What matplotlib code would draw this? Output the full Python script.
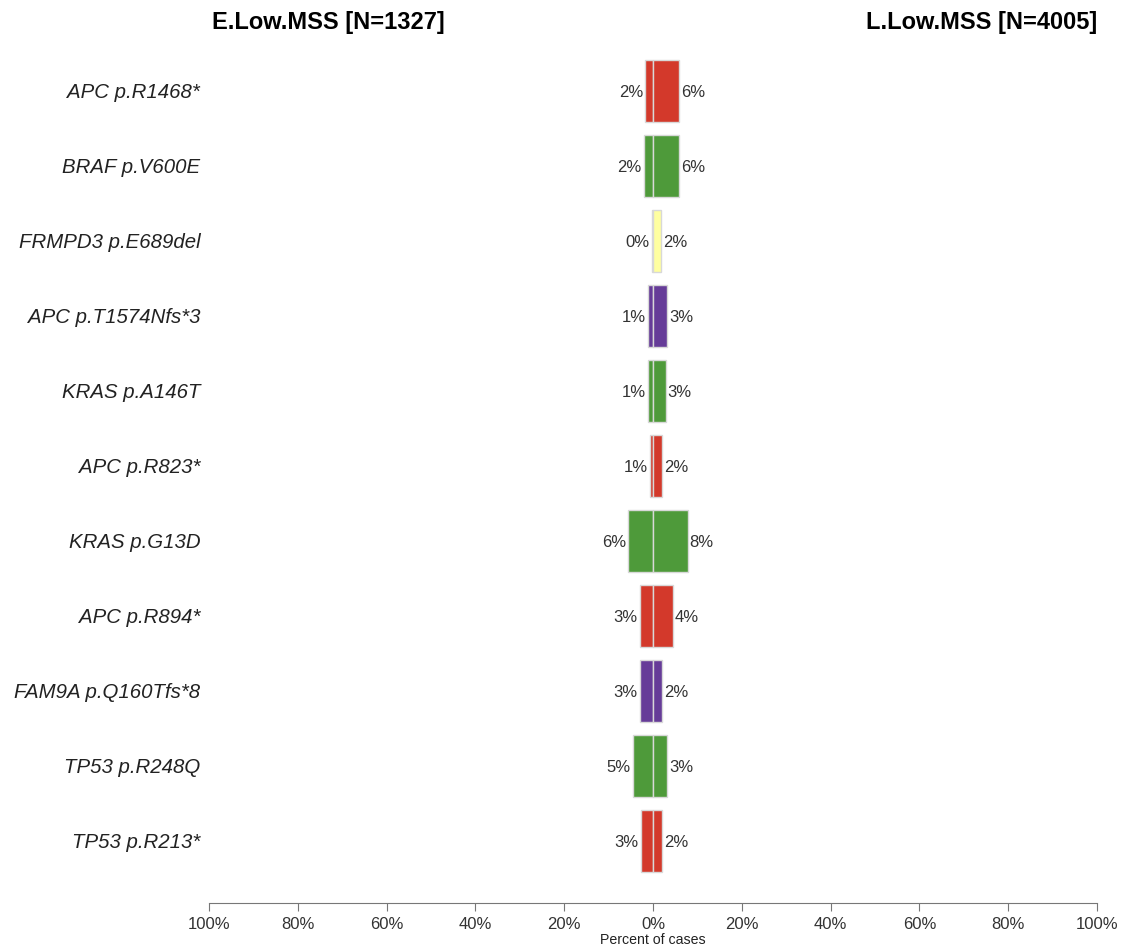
import numpy as np
import matplotlib.pyplot as plt

plt.rcParams['font.family'] = ['Liberation Sans', 'DejaVu Sans']

# mutations, top to bottom
mutations = ["APC p.R1468*", "BRAF p.V600E", "FRMPD3 p.E689del", "APC p.T1574Nfs*3",
             "KRAS p.A146T", "APC p.R823*", "KRAS p.G13D", "APC p.R894*",
             "FAM9A p.Q160Tfs*8", "TP53 p.R248Q", "TP53 p.R213*"]
# percent of cases in each group
early_pct = [1.7, 2.1, 0.2, 1.2, 1.1, 0.6, 5.6, 2.9, 3.0, 4.6, 2.7]
late_pct = [5.9, 5.9, 1.8, 3.2, 2.9, 2.0, 7.8, 4.4, 2.0, 3.2, 2.0]
mut_type = ["nonsense", "missense", "inframe", "frameshift", "missense", "nonsense",
            "missense", "nonsense", "frameshift", "missense", "nonsense"]
left_title = "E.Low.MSS [N=1327]"
right_title = "L.Low.MSS [N=4005]"

type_colors = {"nonsense": "#D3392B", "missense": "#4E9A3A",
               "inframe": "#FFFFA0", "frameshift": "#663C98"}

fig = plt.figure(figsize=(11.22, 9.48), dpi=100)
ax = fig.add_axes([0.1863, 0.0475, 0.7914, 0.9105])

y = np.arange(len(mutations))
colors = [type_colors[t] for t in mut_type]
ax.barh(y, [-v for v in early_pct], height=0.82, color=colors,
        edgecolor="#D8D8D8", linewidth=1)
ax.barh(y, late_pct, height=0.82, color=colors,
        edgecolor="#D8D8D8", linewidth=1)

for yi, e, l in zip(y, early_pct, late_pct):
    ax.text(-e - 0.5, yi, f"{e:.0f}%", ha="right", va="center_baseline",
            fontsize=12, color="#333333")
    ax.text(l + 0.4, yi, f"{l:.0f}%", ha="left", va="center_baseline",
            fontsize=12, color="#333333")
    ax.text(-102, yi, mutations[yi], ha="right", va="center_baseline", fontsize=14.7,
            style="italic", color="#222222", clip_on=False)

ax.set_xlim(-100, 100)
ax.set_ylim(10.827, -0.68)
ticks = np.arange(-100, 101, 20)
ax.set_xticks(ticks)
ax.set_xticklabels([f"{abs(t)}%" for t in ticks], fontsize=12, color="#333333")
ax.set_yticks([])
for side in ["top", "right", "left"]:
    ax.spines[side].set_visible(False)
ax.spines["bottom"].set_color("#777777")
ax.tick_params(axis="x", colors="#777777", labelcolor="#333333", length=6, pad=4)
ax.set_xlabel("Percent of cases", fontsize=10.2, labelpad=1, color="#222222")

fig.text(445 / 1122, 1 - 22 / 948, left_title, ha="right", va="center",
         fontsize=17, fontweight="bold")
fig.text(1097 / 1122, 1 - 22 / 948, right_title, ha="right", va="center",
         fontsize=17, fontweight="bold")

fig.savefig("out.png", dpi=100, facecolor="white")
